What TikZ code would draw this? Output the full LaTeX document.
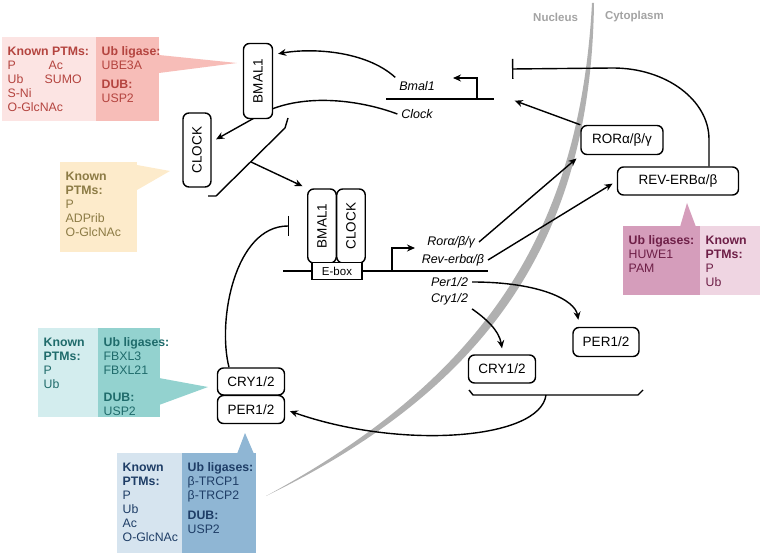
\documentclass[tikz,border=0pt]{standalone}
\usepackage{fontspec}
\setmainfont{Liberation Sans}
\usetikzlibrary{arrows.meta}
\definecolor{membranecolor}{HTML}{B0B0B0}
\definecolor{regioncolor}{HTML}{A3A3A3}
\definecolor{pinklight}{HTML}{FCE4E3}
\definecolor{pinkdark}{HTML}{F7BDB8}
\definecolor{pinktext}{HTML}{B4443F}
\definecolor{yellowfill}{HTML}{FDEBCB}
\definecolor{yellowtext}{HTML}{8C7B45}
\definecolor{mauvedark}{HTML}{D59DBB}
\definecolor{mauvelight}{HTML}{EFD5E2}
\definecolor{mauvetext}{HTML}{6E1F47}
\definecolor{teallight}{HTML}{D3EDEE}
\definecolor{tealdark}{HTML}{93D2CF}
\definecolor{tealtext}{HTML}{1F6B6B}
\definecolor{bluelight}{HTML}{D6E4EF}
\definecolor{bluedark}{HTML}{8FB6D4}
\definecolor{bluetext}{HTML}{1E3D66}

\begin{document}
\begin{tikzpicture}[
	x=1pt, y=-1pt,
	line width=1.4pt,
	>={Stealth[length=8pt, width=7pt]},
	prot/.style={draw, rounded corners=6pt, fill=white, inner sep=0pt,
		font=\fontsize{13.5}{15}\selectfont},
	gene/.style={font=\fontsize{12.5}{15}\selectfont\itshape},
	panel/.style={rectangle, anchor=north west, inner sep=0pt, outer sep=0pt},
	paneltext/.style={align=left, inner sep=0pt, font=\fontsize{12.3}{14}\selectfont},
	activate/.style={->, shorten >=5pt},
	inhibit/.style={-{Bar[width=20pt]}},
	region/.style={text=regioncolor, font=\fontsize{11.5}{14}\selectfont\bfseries},
]
% Input 1: text colour.
\def\ptmpanel#1[#2](#3)#4{
	\node[panel, #2](#3){};
	\node[paneltext, text=#1, anchor=north west] at ([shift={(5,9)}]#3.north west)
		(#3txt) {#4};
}
% \pointer{colour}{base 1}{tip}{base 2}.
\def\pointer#1#2#3#4{
	\fill[#1] (#2) -- (#3) -- (#4) -- cycle;
}
	\useasboundingbox (0,0) rectangle (763,556);

	% Nuclear envelope.
	\fill[membranecolor] (594,3) .. controls (591,230) and (497,384) .. (266,496)
		.. controls (486,377) and (580,230) .. (592,3) -- cycle;
	\node[region, anchor=east] (nuc) at (582,17) {Nucleus};
	\node[region, anchor=west] (cyt) at (601,17) {Cytoplasm};

	\ptmpanel{pinktext}[fill=pinklight, at={(2,37)}, minimum width=94, minimum height=84](pinkL)
		{\textbf{Known PTMs:}\\\makebox[41pt][l]{P}Ac\\\makebox[37pt][l]{Ub}SUMO\\S-Ni\\O-GlcNAc}
	\ptmpanel{pinktext}[fill=pinkdark, at={(96,37)}, minimum width=63, minimum height=84](pinkR)
		{\textbf{Ub ligase:}\\UBE3A\\[5pt]\textbf{DUB:}\\USP2}
	\pointer{pinkdark}{159,55}{237,63}{159,73}
	\ptmpanel{yellowtext}[fill=yellowfill, at={(60,162)}, minimum width=77, minimum height=90](yel)
		{\textbf{Known}\\\textbf{PTMs:}\\P\\ADPrib\\O-GlcNAc}
	\pointer{yellowfill}{137,165}{170,171}{137,190}
	\ptmpanel{mauvetext}[fill=mauvedark, at={(623,226)}, minimum width=77, minimum height=69](mauD)
		{\textbf{Ub ligases:}\\HUWE1\\PAM}
	\ptmpanel{mauvetext}[fill=mauvelight, at={(700,226)}, minimum width=60, minimum height=69](mauL)
		{\textbf{Known}\\\textbf{PTMs:}\\P\\Ub}
	\pointer{mauvedark}{680,227}{687,203}{696,227}
	\ptmpanel{tealtext}[fill=teallight, at={(38,328)}, minimum width=60, minimum height=89](tealL)
		{\textbf{Known}\\\textbf{PTMs:}\\P\\Ub}
	\ptmpanel{tealtext}[fill=tealdark, at={(98,328)}, minimum width=62, minimum height=89](tealD)
		{\textbf{Ub ligases:}\\FBXL3\\FBXL21\\[13pt]\textbf{DUB:}\\USP2}
	\pointer{tealdark}{159,378}{208,387}{159,405}
	\ptmpanel{bluetext}[fill=bluelight, at={(117,453)}, minimum width=65, minimum height=100](blueL)
		{\textbf{Known}\\\textbf{PTMs:}\\P\\Ub\\Ac\\O-GlcNAc}
	\ptmpanel{bluetext}[fill=bluedark, at={(182,453)}, minimum width=74, minimum height=100](blueD)
		{\textbf{Ub ligases:}\\β-TRCP1\\β-TRCP2\\[6pt]\textbf{DUB:}\\USP2}
	\pointer{bluedark}{237,454}{245,433}{254,454}

	\node[gene] (bmalg) at (417,86) {Bmal1};
	\node[gene] (clockg) at (417,114) {Clock};
	\node[gene, anchor=east] (rorg) at (479,242) {Rorα/β/γ};
	\node[gene, anchor=east] (revg) at (488,260) {Rev-erbα/β};
	\node[gene, anchor=east] (perg) at (472,282) {Per1/2};
	\node[gene, anchor=east] (cryg) at (472,299) {Cry1/2};

	\coordinate (topgl) at (386,99);
	\coordinate (topgr) at (494,99);
	\coordinate (topprom) at (477,99);
	\coordinate (toptss) at (453,78);
	\coordinate (eboxgl) at (283,271);
	\coordinate (eboxgr) at (488,271);
	\coordinate (eboxprom) at (392,271);
	\coordinate (eboxtss) at (415,248);
	\coordinate (rorin) at (510,99);
	\coordinate (revbar) at (512,69);
	\coordinate (crybar) at (289,226);
	% BMAL1:CLOCK bracket.
	\coordinate (cxa) at (288,118);
	\coordinate (cxb) at (285,128);
	\coordinate (cxc) at (216,196);
	\coordinate (cxd) at (208,196);
	\coordinate (cxm) at (251,162);
	% CRY:PER bracket.
	\coordinate (cpa) at (469,390);
	\coordinate (cpb) at (473,395);
	\coordinate (cpc) at (638,395);
	\coordinate (cpd) at (643,390);
	\coordinate (cpm) at (546,395);

	% Clock runs behind BMAL1, so CLOCK first.
	\node[prot, minimum width=28, minimum height=74] (CLOCKa) at (197,150) {\rotatebox{90}{CLOCK}};
	\draw[activate] (clockg.west) .. controls (360,100) and (305,93) .. (265,112) -- (CLOCKa);
	\node[prot, minimum width=29, minimum height=75] (BMALa) at (258,81) {\rotatebox{90}{BMAL1}};
	\draw (eboxgl) -- (eboxgr);
	\node[prot, minimum width=28.5, minimum height=74] (BMALb) at (322,226) {\rotatebox{90}{BMAL1}};
	\node[prot, minimum width=28.5, minimum height=74] (CLOCKb) at (351,226) {\rotatebox{90}{CLOCK}};
	\node[prot, rounded corners=0pt, minimum width=50, minimum height=17,
		font=\fontsize{11.5}{13}\selectfont] (ebox) at (337,271) {E-box};
	\node[prot, minimum width=82, minimum height=29] (RORp) at (622,140) {RORα/β/γ};
	\node[prot, minimum width=121, minimum height=28] (REVp) at (678,181) {REV-ERBα/β};
	\node[prot, minimum width=67, minimum height=27] (CRYn) at (251,381.5) {CRY1/2};
	\node[prot, minimum width=67, minimum height=28] (PERn) at (251,409.5) {PER1/2};
	\node[prot, minimum width=67, minimum height=28] (CRYc) at (502,369) {CRY1/2};
	\node[prot, minimum width=66, minimum height=29] (PERc) at (606,342) {PER1/2};

	\draw (topgl) -- (topgr);
	\draw[->] (topprom) |- (toptss);
	\draw[->] (eboxprom) |- (eboxtss);
	\draw[activate] (bmalg.north west) .. controls (365,50) and (310,48) .. (BMALa.60);
	\draw (cxa) -- (cxb) -- (cxc) -- (cxd);
	\draw[activate] (cxm) -- (BMALb.north west);
	\draw[activate] (rorg.east) -- (RORp.south west);
	\draw[activate] (revg.east) -- (REVp.west);
	\draw[activate] (RORp.north west) -- (rorin);
	\draw[inhibit] ([xshift=31pt]REVp.north) -- ++(0,-27) .. controls (709,100) and (666,68)
		.. (613,68) -- (revbar);
	\draw[->] (perg.east) .. controls (540,282) and (575,300) .. ([shift={(6,-7)}]PERc.north west);
	\draw[->] (cryg.south east) .. controls (485,318) and (499,330) .. ([yshift=6pt]CRYc.north);
	\draw (cpa) -- (cpb) -- (cpc) -- (cpd);
	\draw[activate] (cpm) .. controls (540,440) and (400,450) .. (PERn.east);
	\draw[inhibit] ([xshift=-22pt]CRYn.north) .. controls (217,320) and (235,226) .. (crybar);
\end{tikzpicture}
\end{document}
